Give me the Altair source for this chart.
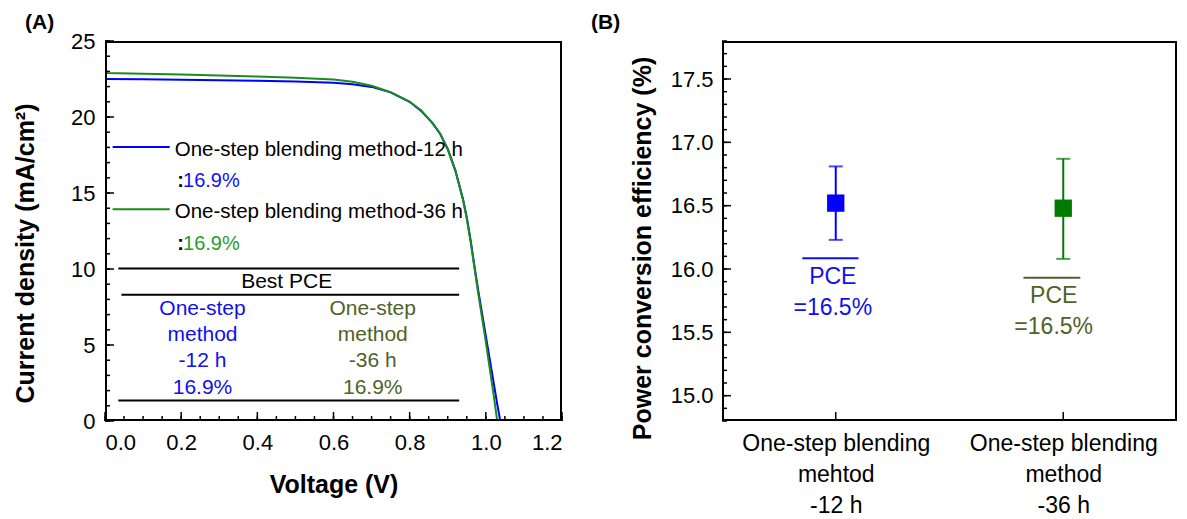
import json
import altair as alt
import pandas as pd

FONT = "Liberation Sans"
BLUE = "#0000ff"
GREEN = "#1a8c1a"
BLUE_TXT = "#1010ee"
OLIVE = "#4f6228"

# ---------------- Panel A data ----------------
voltage_12 = [0.0, 0.1, 0.2, 0.3, 0.4, 0.5, 0.6, 0.65, 0.7, 0.75, 0.8, 0.83, 0.86, 0.88, 0.9,
              0.92, 0.94, 0.95, 0.96, 0.97, 0.98, 0.99, 1.0, 1.01, 1.02, 1.03, 1.038]
current_12 = [22.5, 22.48, 22.45, 22.42, 22.38, 22.33, 22.25, 22.15, 21.98, 21.62, 21.0, 20.4, 19.6, 18.9, 17.9,
              16.5, 14.6, 13.4, 11.9, 10.2, 8.6, 7.1, 5.6, 4.1, 2.6, 1.1, 0.0]
voltage_36 = [0.0, 0.005, 0.1, 0.2, 0.3, 0.4, 0.5, 0.6, 0.65, 0.7, 0.75, 0.8, 0.83, 0.86, 0.88, 0.9,
              0.92, 0.94, 0.95, 0.96, 0.97, 0.98, 0.99, 1.0, 1.01, 1.02, 1.03]
current_36 = [23.05, 22.9, 22.85, 22.8, 22.73, 22.66, 22.58, 22.46, 22.32, 22.05, 21.63, 21.0, 20.45, 19.6, 18.9, 17.85,
              16.45, 14.55, 13.3, 11.8, 10.1, 8.4, 6.8, 5.2, 3.5, 1.8, 0.0]
series_names = ["One-step blending method-12 h", "One-step blending method-36 h"]
series_colors = [BLUE, GREEN]
legend_pce_colors = [BLUE_TXT, "#2a9a2a"]

legend_line_x = [0.02, 0.02]
legend_line_x2 = [0.17, 0.17]
legend_line_y = [18.03, 13.93]
legend_text_x = [0.183, 0.183]
legend_text_y = [17.8, 13.75]
legend_pce = ["16.9%", "16.9%"]
legend_pce_y = [15.8, 11.67]
legend_colon_x = [0.19, 0.19]
legend_pce_x = [0.205, 0.205]

table_rule_y = [10.04, 8.30, 1.35]
table_rule_x = [0.035, 0.043, 0.035]
table_rule_x2 = [0.93, 0.93, 0.93]
table_head = ["Best PCE"]
table_head_x = [0.477]
table_head_y = [9.17]
table_col12 = ["One-step", "method", "-12 h", "16.9%"]
table_col36 = ["One-step", "method", "-36 h", "16.9%"]
table_row_y = [7.36, 5.63, 3.93, 2.18]
table_col_x = [0.256, 0.703]
table_col_colors = [BLUE_TXT, OLIVE]

xA_domain = [0, 1.2]
yA_domain = [0, 25]
xA_minor = [round(i * 0.05, 2) for i in range(25)]
xA_major = [0.0, 0.2, 0.4, 0.6, 0.8, 1.0, 1.2]
yA_minor = list(range(26))
yA_major = [0, 5, 10, 15, 20, 25]

# ---------------- Panel B data ----------------
cat_pos = [1, 2]
cat_labels = [["One-step blending", "mehtod", "-12 h"], ["One-step blending", "method", "-36 h"]]
pce_mean = [16.52, 16.48]
pce_low = [16.23, 16.08]
pce_high = [16.81, 16.87]
b_colors = [BLUE, "#007a00"]
b_text_colors = [BLUE_TXT, OLIVE]
over_x = [0.853, 1.825]
over_x2 = [1.10, 2.075]
over_y = [16.085, 15.93]
pce_text_x = [0.987, 1.958]
pce_text_y = [15.94, 15.79]
pce_val_y = [15.69, 15.54]
pce_val = ["=16.5%", "=16.5%"]
xB_domain = [0.5, 2.5]
yB_domain = [14.8, 17.8]
yB_minor = [round(14.8 + i * 0.1, 1) for i in range(31)]
yB_major = [15.0, 15.5, 16.0, 16.5, 17.0, 17.5]

panel_labels = ["(A)", "(B)"]

WA, HA = 457, 380
WB, HB = 455, 380


def frame(xs, ys, xd, yd):
    # four edge rules, each nudged 1px inward so the full 2px stroke lies inside the plot
    layers = []
    hdf = pd.DataFrame({"x0": [xd[0]], "x1": [xd[1]], "y": [yd[0]]})
    tdf = pd.DataFrame({"x0": [xd[0]], "x1": [xd[1]], "y": [yd[1]]})
    ldf = pd.DataFrame({"y0": [yd[0]], "y1": [yd[1]], "x": [xd[0]]})
    rdf = pd.DataFrame({"y0": [yd[0]], "y1": [yd[1]], "x": [xd[1]]})
    for df, off in ((hdf, -1), (tdf, 1)):
        layers.append(alt.Chart(df).mark_rule(color="black", strokeWidth=2, yOffset=off).encode(
            x=alt.X("x0:Q", scale=xs, axis=None), x2="x1:Q", y=alt.Y("y:Q", scale=ys, axis=None)))
    for df, off in ((ldf, 1), (rdf, -1)):
        layers.append(alt.Chart(df).mark_rule(color="black", strokeWidth=2, xOffset=off).encode(
            y=alt.Y("y0:Q", scale=ys, axis=None), y2="y1:Q", x=alt.X("x:Q", scale=xs, axis=None)))
    return layers


def xticks(values, y0, xs, ys, size):
    df = pd.DataFrame({"v": values, "b": [y0] * len(values)})
    return alt.Chart(df).mark_tick(orient="vertical", size=size, thickness=1.5, color="black",
                                   yOffset=-size / 2, opacity=1).encode(
        x=alt.X("v:Q", scale=xs, axis=None), y=alt.Y("b:Q", scale=ys, axis=None))


def yticks(values, x0, xs, ys, size):
    df = pd.DataFrame({"v": values, "b": [x0] * len(values)})
    return alt.Chart(df).mark_tick(orient="horizontal", size=size, thickness=1.5, color="black",
                                   xOffset=size / 2, opacity=1).encode(
        x=alt.X("b:Q", scale=xs, axis=None), y=alt.Y("v:Q", scale=ys, axis=None))


def panel_label(i, dx):
    df = pd.DataFrame({"t": [panel_labels[i]]})
    return alt.Chart(df).mark_text(align="left", baseline="alphabetic", font=FONT, fontSize=21,
                                   fontWeight="bold", color="black").encode(
        x=alt.value(dx), y=alt.value(-12), text="t:N")


# ---------------- Panel A ----------------
curve_df = pd.DataFrame({
    "V": voltage_12 + voltage_36,
    "J": current_12 + current_36,
    "s": [series_names[0]] * len(voltage_12) + [series_names[1]] * len(voltage_36),
})

xA = alt.Scale(domain=xA_domain, nice=False)
yA = alt.Scale(domain=yA_domain, nice=False)


def XA(f):
    return alt.X(f, scale=xA, axis=None)


def YA(f):
    return alt.Y(f, scale=yA, axis=None)


curves = alt.Chart(curve_df).mark_line(strokeWidth=2, clip=True).encode(
    x=alt.X("V:Q", scale=xA, axis=alt.Axis(
        values=xA_major, format=".1f", ticks=False, domain=False, grid=False,
        labelFontSize=22, labelPadding=11, labelFont=FONT, labelColor="black",
        title="Voltage (V)", titleFontSize=25, titleFont=FONT, titleFontWeight="bold",
        titleBaseline="middle", titleY=63, titleColor="black")),
    y=alt.Y("J:Q", scale=yA, axis=alt.Axis(
        values=yA_major, ticks=False, domain=False, grid=False,
        labelFontSize=22, labelPadding=10, labelFont=FONT, labelColor="black",
        title="Current density (mA/cm²)", titleFontSize=25, titleFont=FONT, titleFontWeight="bold",
        titleBaseline="middle", titleX=-80, titleY=212, titleColor="black")),
    color=alt.Color("s:N", scale=alt.Scale(domain=series_names, range=series_colors), legend=None),
    detail="s:N",
)

table_rules_df = pd.DataFrame({"x": table_rule_x, "x2": table_rule_x2, "y": table_rule_y})
table_rules = alt.Chart(table_rules_df).mark_rule(color="black", strokeWidth=2).encode(
    x=XA("x:Q"), x2="x2:Q", y=YA("y:Q"))

leg_df = pd.DataFrame({
    "x": legend_line_x, "x2": legend_line_x2, "y": legend_line_y, "s": series_names,
    "tx": legend_text_x, "ty": legend_text_y, "p": legend_pce, "py": legend_pce_y,
    "cx": legend_colon_x, "px": legend_pce_x, "lc": series_colors, "pc": legend_pce_colors,
})
leg_lines = alt.Chart(leg_df).mark_rule(strokeWidth=2).encode(
    x=XA("x:Q"), x2="x2:Q", y=YA("y:Q"), color=alt.Color("lc:N", scale=None))
leg_text = alt.Chart(leg_df).mark_text(align="left", baseline="middle", font=FONT, fontSize=20.5, color="black").encode(
    x=XA("tx:Q"), y=YA("ty:Q"), text="s:N")
leg_colon = alt.Chart(leg_df).mark_text(align="left", baseline="middle", font=FONT, fontSize=20,
                                        fontWeight="bold", color="black").encode(
    x=XA("cx:Q"), y=YA("py:Q"), text=alt.value(":"))
leg_pce = alt.Chart(leg_df).mark_text(align="left", baseline="middle", font=FONT, fontSize=20).encode(
    x=XA("px:Q"), y=YA("py:Q"), text="p:N", color=alt.Color("pc:N", scale=None))

head_df = pd.DataFrame({"t": table_head, "x": table_head_x, "y": table_head_y})
head = alt.Chart(head_df).mark_text(font=FONT, fontSize=21, color="black", baseline="middle").encode(
    x=XA("x:Q"), y=YA("y:Q"), text="t:N")

tab_df = pd.DataFrame({
    "t": table_col12 + table_col36,
    "x": [table_col_x[0]] * 4 + [table_col_x[1]] * 4,
    "y": table_row_y + table_row_y,
    "c": [table_col_colors[0]] * 4 + [table_col_colors[1]] * 4,
})
tab = alt.Chart(tab_df).mark_text(font=FONT, fontSize=21, baseline="middle").encode(
    x=XA("x:Q"), y=YA("y:Q"), text="t:N", color=alt.Color("c:N", scale=None))

panelA = alt.layer(
    curves, table_rules, leg_lines, leg_text, leg_colon, leg_pce, head, tab,
    xticks(xA_minor, yA_domain[0], xA, yA, 5), xticks(xA_major, yA_domain[0], xA, yA, 9),
    yticks(yA_minor, xA_domain[0], xA, yA, 5), yticks(yA_major, xA_domain[0], xA, yA, 9),
    *frame(xA, yA, xA_domain, yA_domain), panel_label(0, -80),
).resolve_axis(x="independent", y="independent").resolve_scale(color="independent").properties(
    width=WA, height=HA)

# ---------------- Panel B ----------------
xB = alt.Scale(domain=xB_domain, nice=False)
yB = alt.Scale(domain=yB_domain, nice=False)


def XB(f):
    return alt.X(f, scale=xB, axis=None)


def YB(f):
    return alt.Y(f, scale=yB, axis=None)


label_expr = "datum.value == 1 ? " + json.dumps(cat_labels[0]) + " : " + json.dumps(cat_labels[1])

b_df = pd.DataFrame({
    "x": cat_pos, "m": pce_mean, "lo": pce_low, "hi": pce_high,
    "mc": b_colors, "tc": b_text_colors,
    "ox": over_x, "ox2": over_x2, "oy": over_y, "tx": pce_text_x, "ty": pce_text_y, "vy": pce_val_y,
    "v": pce_val, "pce": ["PCE", "PCE"],
})

bars = alt.Chart(b_df).mark_rule(strokeWidth=2).encode(
    x=alt.X("x:Q", scale=xB, axis=alt.Axis(
        values=cat_pos, labelExpr=label_expr, ticks=False, domain=False,
        grid=False, labelFontSize=23, labelLineHeight=31, labelPadding=11, labelFont=FONT, labelColor="black",
        labelLimit=0, title=None)),
    y=alt.Y("lo:Q", scale=yB, axis=alt.Axis(
        values=yB_major, format=".1f", ticks=False, domain=False, grid=False,
        labelFontSize=22, labelPadding=9, labelFont=FONT, labelColor="black",
        title="Power conversion efficiency (%)", titleFontSize=25, titleFont=FONT, titleFontWeight="bold",
        titleBaseline="middle", titleX=-80, titleY=207, titleColor="black")),
    y2="hi:Q",
    color=alt.Color("mc:N", scale=None),
)
caps_lo = alt.Chart(b_df).mark_tick(orient="horizontal", size=14, thickness=2).encode(
    x=XB("x:Q"), y=YB("lo:Q"), color=alt.Color("mc:N", scale=None))
caps_hi = alt.Chart(b_df).mark_tick(orient="horizontal", size=14, thickness=2).encode(
    x=XB("x:Q"), y=YB("hi:Q"), color=alt.Color("mc:N", scale=None))
squares = alt.Chart(b_df).mark_square(size=300, opacity=1, filled=True).encode(
    x=XB("x:Q"), y=YB("m:Q"), color=alt.Color("mc:N", scale=None))
overlines = alt.Chart(b_df).mark_rule(strokeWidth=2).encode(
    x=XB("ox:Q"), x2="ox2:Q", y=YB("oy:Q"), color=alt.Color("tc:N", scale=None))
pce_txt = alt.Chart(b_df).mark_text(font=FONT, fontSize=23, baseline="middle").encode(
    x=XB("tx:Q"), y=YB("ty:Q"), text="pce:N", color=alt.Color("tc:N", scale=None))
pce_vtxt = alt.Chart(b_df).mark_text(font=FONT, fontSize=23, baseline="middle").encode(
    x=XB("tx:Q"), y=YB("vy:Q"), text="v:N", color=alt.Color("tc:N", scale=None))

panelB = alt.layer(
    bars, caps_lo, caps_hi, squares, overlines, pce_txt, pce_vtxt,
    xticks(cat_pos, yB_domain[0], xB, yB, 9),
    yticks(yB_minor, xB_domain[0], xB, yB, 5), yticks(yB_major, xB_domain[0], xB, yB, 9),
    *frame(xB, yB, xB_domain, yB_domain), panel_label(1, -131),
).resolve_axis(x="independent", y="independent").resolve_scale(color="independent").properties(
    width=WB, height=HB)

chart = alt.hconcat(panelA, panelB, spacing=28).properties(
    padding={"left": 5, "top": 4, "right": 0, "bottom": 0}, background="white"
).configure_view(strokeWidth=0)

chart.save("out.html", embed_options={"renderer": "svg", "actions": False})
